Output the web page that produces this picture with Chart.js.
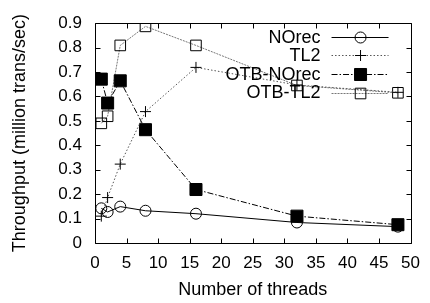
<!DOCTYPE html>
<html><head><meta charset="utf-8">
<script src="https://cdn.jsdelivr.net/npm/chart.js@4"></script>
<style>html,body{margin:0;padding:0;background:#fff}#wrap{width:430px;height:303px;position:relative}</style>
</head><body><div id="wrap"><canvas id="c"></canvas></div>
<script>
const threads = [1, 2, 4, 8, 16, 32, 48];
const norec = [0.142, 0.127, 0.149, 0.132, 0.120, 0.084, 0.067];
const tl2 = [0.110, 0.186, 0.323, 0.538, 0.719, 0.647, 0.617];
const otbNorec = [0.671, 0.573, 0.664, 0.464, 0.219, 0.110, 0.075];
const otbTl2 = [0.490, 0.519, 0.809, 0.887, 0.809, 0.645, 0.615];
const seriesNames = ['NOrec', 'TL2', 'OTB-NOrec', 'OTB-TL2'];
const xTicks = [0, 5, 10, 15, 20, 25, 30, 35, 40, 45, 50];
const yTicks = [0, 0.1, 0.2, 0.3, 0.4, 0.5, 0.6, 0.7, 0.8, 0.9];
const yTickLabels = ['0', '0.1', '0.2', '0.3', '0.4', '0.5', '0.6', '0.7', '0.8', '0.9'];
const xTitle = 'Number of threads';
const yTitle = 'Throughput (million trans/sec)';

const FONT = "'Liberation Sans', Arial, Helvetica, sans-serif";
Chart.defaults.font.family = FONT;
Chart.defaults.color = '#000';

const pts = arr => threads.map((t, i) => ({x: t, y: arr[i]}));
const styles = [
  {borderColor: '#000', borderDash: [], pointStyle: 'circle', pointRadius: 5.5, bg: 'rgba(0,0,0,0)'},
  {borderColor: '#555', borderDash: [1.5, 2], pointStyle: 'cross', pointRadius: 5.5, bg: 'rgba(0,0,0,0)'},
  {borderColor: '#000', borderDash: [6, 2, 1.5, 2], pointStyle: 'rect', pointRadius: 8.5, bg: '#000'},
  {borderColor: '#777', borderDash: [2, 1], pointStyle: 'rect', pointRadius: 7.5, bg: 'rgba(0,0,0,0)'}
];
const allData = [norec, tl2, otbNorec, otbTl2];

const datasets = allData.map((d, i) => ({
  label: seriesNames[i],
  data: pts(d),
  borderColor: styles[i].borderColor,
  borderDash: styles[i].borderDash,
  borderWidth: 1,
  pointStyle: styles[i].pointStyle,
  pointRadius: styles[i].pointRadius,
  pointBorderColor: '#000',
  pointBackgroundColor: styles[i].bg,
  pointBorderWidth: 1,
  tension: 0,
  fill: false
}));

function drawMarker(ctx, style, r, x, y, bg) {
  ctx.save();
  ctx.setLineDash([]);
  ctx.lineWidth = 1;
  ctx.strokeStyle = '#000';
  ctx.fillStyle = bg;
  ctx.beginPath();
  if (style === 'circle') {
    ctx.arc(x, y, r, 0, Math.PI * 2);
    ctx.fill(); ctx.stroke();
  } else if (style === 'cross') {
    ctx.moveTo(x - r, y); ctx.lineTo(x + r, y);
    ctx.moveTo(x, y - r); ctx.lineTo(x, y + r);
    ctx.stroke();
  } else {
    const s = Math.SQRT1_2 * r;
    ctx.rect(x - s, y - s, 2 * s, 2 * s);
    ctx.fill(); ctx.stroke();
  }
  ctx.restore();
}

const framePlugin = {
  id: 'frame',
  afterDatasetsDraw(chart) {
    const {ctx, chartArea: a, scales: {x, y}} = chart;
    ctx.save();
    ctx.strokeStyle = '#000';
    ctx.lineWidth = 1;
    ctx.setLineDash([]);
    ctx.beginPath();
    const L = Math.round(a.left) + 0.5, R = Math.round(a.right) + 0.5;
    const T = Math.round(a.top) + 0.5, B = Math.round(a.bottom) + 0.5;
    ctx.rect(L, T, R - L, B - T);
    const tl = 5;
    xTicks.forEach(v => {
      const px = Math.round(x.getPixelForValue(v)) + 0.5;
      ctx.moveTo(px, B); ctx.lineTo(px, B - tl);
      ctx.moveTo(px, T); ctx.lineTo(px, T + tl);
    });
    yTicks.forEach(v => {
      const py = Math.round(y.getPixelForValue(v)) + 0.5;
      ctx.moveTo(L, py); ctx.lineTo(L + tl, py);
      ctx.moveTo(R, py); ctx.lineTo(R - tl, py);
    });
    ctx.stroke();

    // key
    const textRight = a.right - 90;
    const lineL = a.right - 79, lineR = a.right - 22, mid = a.right - 50;
    ctx.font = '18px ' + FONT;
    ctx.textAlign = 'right';
    ctx.textBaseline = 'middle';
    ctx.fillStyle = '#000';
    seriesNames.forEach((n, i) => {
      const ry = a.top + 13.5 + i * 18.6;
      ctx.fillText(n, textRight, ry + 1);
      ctx.save();
      ctx.strokeStyle = styles[i].borderColor;
      ctx.setLineDash(styles[i].borderDash);
      ctx.lineWidth = 1;
      ctx.beginPath();
      ctx.moveTo(lineL, Math.round(ry) + 0.5);
      ctx.lineTo(lineR, Math.round(ry) + 0.5);
      ctx.stroke();
      ctx.restore();
      drawMarker(ctx, styles[i].pointStyle, styles[i].pointRadius, mid, Math.round(ry) + 0.5, styles[i].bg);
    });
    ctx.restore();
  }
};

new Chart(document.getElementById('c'), {
  type: 'line',
  data: {datasets},
  plugins: [framePlugin],
  options: {
    responsive: true,
    maintainAspectRatio: false,
    animation: false,
    layout: {padding: {top: 14, right: 14, left: 0, bottom: 0}},
    plugins: {legend: {display: false}, tooltip: {enabled: false}},
    scales: {
      x: {
        type: 'linear', min: 0, max: 50,
        afterBuildTicks: s => { s.ticks = xTicks.map(v => ({value: v})); },
        afterFit: s => { s.height = 60; },
        grid: {display: false, drawTicks: false},
        border: {display: false},
        ticks: {font: {size: 17}, color: '#000', padding: 10, maxRotation: 0, autoSkip: false,
                callback: v => String(v)},
        title: {display: true, text: xTitle, font: {size: 18}, color: '#000', padding: {top: 0, bottom: 2}}
      },
      y: {
        type: 'linear', min: 0, max: 0.9,
        afterBuildTicks: s => { s.ticks = yTicks.map(v => ({value: v})); },
        afterFit: s => { s.width = 95; },
        grid: {display: false, drawTicks: false},
        border: {display: false},
        ticks: {font: {size: 17}, color: '#000', padding: 13, autoSkip: false,
                callback: (v, i) => yTickLabels[i]},
        title: {display: true, text: yTitle, font: {size: 18}, color: '#000', padding: {top: 9, bottom: 0}}
      }
    }
  }
});
</script>
</body></html>
